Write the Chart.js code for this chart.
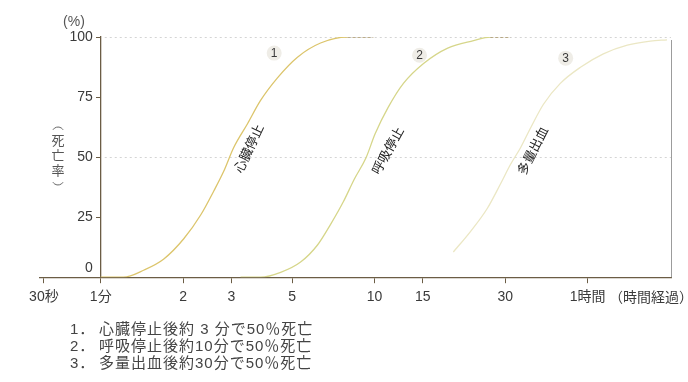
<!DOCTYPE html>
<html>
<head>
<meta charset="utf-8">
<script src="https://cdn.jsdelivr.net/npm/chart.js@4"></script>
<style>
  html, body { margin: 0; padding: 0; background: #fff; }
  #wrap { width: 688px; height: 382px; }
</style>
</head>
<body>
<div id="wrap"><canvas id="c" width="688" height="382"></canvas></div>
<script>
// x: minutes after the event (log axis), y: mortality %
const xMin = 0.62
const xMax = 121
const xTickValues = [0.62, 1, 2, 3, 5, 10, 15, 30, 60]
const xTickLabels = ["30秒", "1分", "2", "3", "5", "10", "15", "30", "1時間"]
const yTickValues = [0, 25, 50, 75, 100]
const refLevels = [50, 100]

// 1. cardiac arrest
const heartMin = [1.0, 1.21, 1.44, 1.7, 2.01, 2.32, 2.59, 2.81, 3.06, 3.44, 3.83, 4.42, 5.23, 6.35, 7.96, 9.9]
const heartPct = [0, 0, 3, 7.6, 16, 26, 36, 44, 54, 64, 73.5, 83, 91.6, 97.5, 100, 100]
// 2. respiratory arrest
const breathMin = [3.24, 3.84, 4.54, 5.37, 6.19, 6.91, 7.7, 8.45, 9.3, 10.05, 11.2, 12.75, 15.1, 18.5, 23.0, 26.5, 31.4]
const breathPct = [0, 0, 2, 6.3, 13.4, 22, 31.5, 41, 49.6, 59.7, 70.6, 80.7, 89, 95.4, 98.5, 100, 100]
// 3. massive bleeding
const bleedMin = [19.4, 22.4, 25.8, 28.8, 31.4, 34.1, 37.1, 41.4, 47.7, 56.5, 68.5, 83.8, 101.7, 117]
const bleedPct = [10.5, 19, 28.6, 38.7, 47, 53.8, 62, 72, 80.7, 87.4, 93, 96.6, 98.3, 98.8]

const curveNames = ["心臓停止", "呼吸停止", "多量出血"]
const curveColors = ["#dcc56c", "#d6d68a", "#ebe7c4"]
// label anchors in data units (minutes, %) and text angle
const nameAnchorMin = [3.5, 11.26, 38.1]
const nameAnchorPct = [53.4, 52.5, 52.5]
const nameAngle = [-65, -61, -63]
const numAnchorMin = [4.3, 14.6, 49.9]
const numAnchorPct = [93.3, 92.4, 91.2]

const captionLines = [
  ["1．", "心臓停止後約 3 分で50％死亡"],
  ["2．", "呼吸停止後約10分で50％死亡"],
  ["3．", "多量出血後約30分で50％死亡"],
]

const FONT = '"Liberation Sans", "Noto Sans CJK JP", sans-serif'
const AXIS = "#6b5d45"
const TEXT = "#3a3a3a"

function toPoints(xs, ys) {
  return xs.map((v, i) => ({ x: v, y: ys[i] }))
}

function makeSet(xs, ys, i) {
  return {
    data: toPoints(xs, ys),
    borderColor: curveColors[i],
    borderWidth: 1.3,
    pointRadius: 0,
    fill: false,
    cubicInterpolationMode: "monotone",
    segment: {
      // plateau at 100% drawn dashed
      borderDash: (c) => (c.p0.parsed.y === 100 && c.p1.parsed.y === 100 ? [3, 2] : undefined),
      borderColor: (c) => (c.p0.parsed.y === 100 && c.p1.parsed.y === 100 ? "#a89466" : undefined),
    },
  }
}

const decor = {
  id: "decor",
  beforeDatasetsDraw(chart) {
    const { ctx, chartArea: a, scales } = chart
    const x = scales.x, y = scales.y
    ctx.save()
    ctx.strokeStyle = "#d4d4d4"
    ctx.lineWidth = 1
    ctx.setLineDash([2, 3])
    refLevels.forEach((v) => {
      const py = Math.round(y.getPixelForValue(v)) + 0.5
      ctx.beginPath()
      ctx.moveTo(x.getPixelForValue(1) + 4, py)
      ctx.lineTo(a.right, py)
      ctx.stroke()
    })
    ctx.setLineDash([])
    ctx.strokeStyle = "#9c9c9c"
    ctx.beginPath()
    ctx.moveTo(a.right + 0.5, a.top + 3)
    ctx.lineTo(a.right + 0.5, a.bottom)
    ctx.stroke()
    ctx.restore()
  },
  afterDraw(chart) {
    const { ctx, scales } = chart
    const x = scales.x, y = scales.y
    const axisX = x.getPixelForValue(1)
    ctx.save()
    ctx.fillStyle = TEXT
    ctx.textBaseline = "middle"

    // y tick labels, left of the axis placed at 1 min
    ctx.font = "14px " + FONT
    ctx.textAlign = "right"
    y.ticks.forEach((t) => {
      const lift = t.value === 0 ? 9 : 0
      ctx.fillText(String(t.value), axisX - 8, y.getPixelForValue(t.value) - lift)
    })

    // names along the curves
    ctx.fillStyle = "#222"
    ctx.font = "13px " + FONT
    ctx.textAlign = "center"
    curveNames.forEach((name, i) => {
      ctx.save()
      ctx.translate(x.getPixelForValue(nameAnchorMin[i]), y.getPixelForValue(nameAnchorPct[i]))
      ctx.rotate((nameAngle[i] * Math.PI) / 180)
      ctx.fillText(name, 0, 0)
      ctx.restore()
    })

    // circled numbers
    numAnchorMin.forEach((m, i) => {
      const px = x.getPixelForValue(m), py = y.getPixelForValue(numAnchorPct[i])
      ctx.fillStyle = "#efede7"
      ctx.beginPath()
      ctx.arc(px, py, 7.5, 0, Math.PI * 2)
      ctx.fill()
      ctx.fillStyle = TEXT
      ctx.font = "12px " + FONT
      ctx.fillText(String(i + 1), px, py + 0.5)
    })

    // unit and vertical axis title with vertical brackets
    ctx.fillStyle = "#555"
    ctx.font = "14px " + FONT
    ctx.fillText("(%)", 74, 22)
    ctx.font = "13px " + FONT
    const yTitle = ["死", "亡", "率"]
    yTitle.forEach((ch, i) => ctx.fillText(ch, 58, 141 + i * 15))
    ctx.strokeStyle = "#666"
    ctx.lineWidth = 1
    ctx.beginPath()
    ctx.arc(58, 133, 6, Math.PI * 1.18, Math.PI * 1.82)
    ctx.stroke()
    ctx.beginPath()
    ctx.arc(58, 179, 6, Math.PI * 0.18, Math.PI * 0.82)
    ctx.stroke()

    ctx.fillStyle = TEXT
    ctx.font = "14px " + FONT
    ctx.textAlign = "left"
    ctx.fillText("（時間経過）", 609, 298)

    // caption
    ctx.fillStyle = "#444"
    ctx.font = "15px " + FONT
    ctx.letterSpacing = "1px"
    captionLines.forEach((ln, i) => {
      const py = 330 + i * 17
      ctx.fillText(ln[0], 70, py)
      ctx.fillText(ln[1], 99, py)
    })
    ctx.restore()
  },
}

new Chart(document.getElementById("c"), {
  type: "line",
  data: {
    datasets: [
      makeSet(heartMin, heartPct, 0),
      makeSet(breathMin, breathPct, 1),
      makeSet(bleedMin, bleedPct, 2),
    ],
  },
  options: {
    responsive: false,
    devicePixelRatio: 1,
    animation: false,
    layout: { padding: { left: 40, right: 17, top: 37, bottom: 70 } },
    plugins: { legend: { display: false }, tooltip: { enabled: false } },
    scales: {
      x: {
        type: "logarithmic",
        min: xMin,
        max: xMax,
        afterBuildTicks: (s) => {
          s.ticks = xTickValues.map((v) => ({ value: v }))
        },
        ticks: {
          autoSkip: false,
          maxRotation: 0,
          color: TEXT,
          font: { family: FONT, size: 14 },
          padding: 6,
          callback: (v, i) => xTickLabels[i],
        },
        grid: { display: true, drawOnChartArea: false, tickLength: 6, tickColor: AXIS, tickWidth: 1 },
        border: { color: AXIS, width: 1.3 },
      },
      y: {
        position: { x: 1 },
        min: 0,
        max: 100,
        afterBuildTicks: (s) => {
          s.ticks = yTickValues.map((v) => ({ value: v }))
        },
        ticks: { display: false },
        grid: { display: true, drawOnChartArea: false, tickLength: 4, tickColor: AXIS, tickWidth: 1 },
        border: { color: AXIS, width: 1.3 },
      },
    },
  },
  plugins: [decor],
})
</script>
</body>
</html>
